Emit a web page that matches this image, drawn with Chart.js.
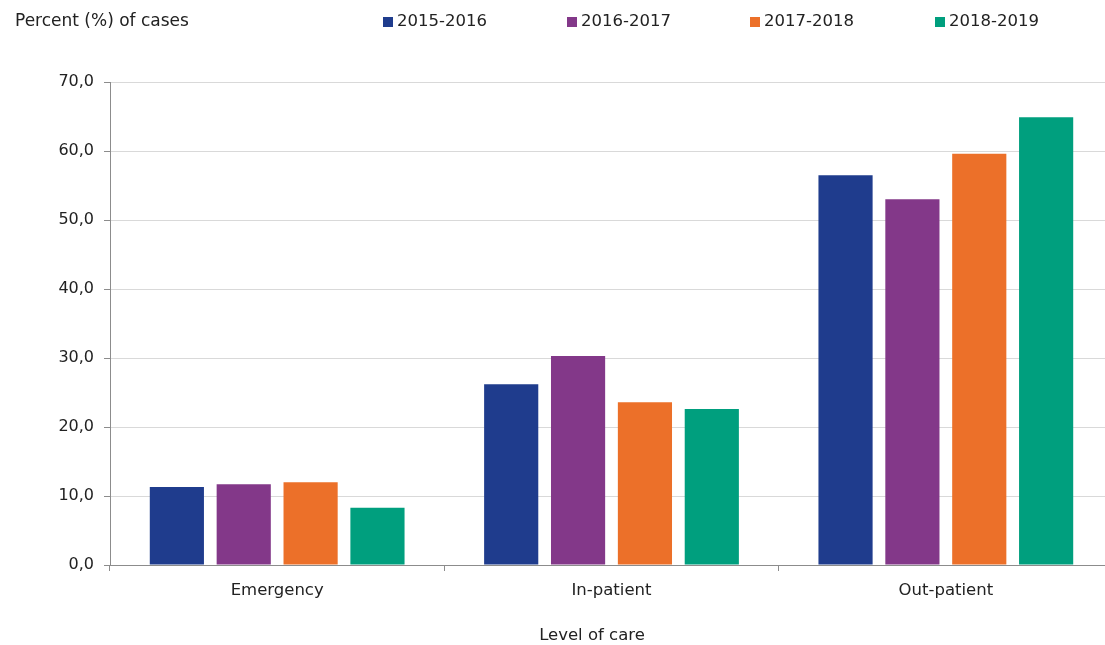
<!DOCTYPE html>
<html lang="en">
<head>
    <meta charset="UTF-8">
    <title>Level of care</title>
    <script src="https://cdn.jsdelivr.net/npm/chart.js@4.4.1/dist/chart.umd.min.js"></script>
    <style>
        html, body { margin: 0; padding: 0; background: #fff; overflow: hidden; }
        #wrap { position: absolute; left: 0; top: 0; width: 1115px; height: 645px; }
    </style>
</head>
<body>
<div id="wrap"><canvas id="myChart"></canvas></div>
<script>
    // data
    const categories = ['Emergency', 'In-patient', 'Out-patient'];
    const seriesNames = ['2015-2016', '2016-2017', '2017-2018', '2018-2019'];
    const v2015 = [11.3, 26.2, 56.5];
    const v2016 = [11.7, 30.3, 53.0];
    const v2017 = [12.0, 23.6, 59.6];
    const v2018 = [8.3, 22.6, 64.9];
    const yTicks = [0, 10, 20, 30, 40, 50, 60, 70];
    const yTitle = 'Percent (%) of cases';
    const xTitle = 'Level of care';

    const colors = ['#1f3c8d', '#833889', '#ec7029', '#009f7e'];
    const values = [v2015, v2016, v2017, v2018];
    const FONT = "'DejaVu Sans', Verdana, sans-serif";

    // titles + legend drawn by hand so they sit where the original has them
    const legendX = [383, 567, 750, 935];
    const extraText = {
        id: 'extraText',
        afterDraw(chart) {
            const c = chart.ctx;
            c.save();
            c.fillStyle = '#222';
            c.textBaseline = 'middle';
            c.textAlign = 'left';
            c.font = '17px ' + FONT;
            c.fillText(yTitle, 15, 22);
            c.font = '16.5px ' + FONT;
            chart.data.datasets.forEach((ds, i) => {
                c.fillStyle = ds.backgroundColor;
                c.fillRect(legendX[i], 17, 10, 10);
                c.fillStyle = '#222';
                c.fillText(ds.label, legendX[i] + 14, 22);
            });
            c.textAlign = 'center';
            c.fillText(xTitle, 592, 636);
            c.restore();
        }
    };

    const ctx = document.getElementById('myChart');
    new Chart(ctx, {
        type: 'bar',
        data: {
            labels: categories,
            datasets: seriesNames.map((name, i) => ({
                label: name,
                data: values[i],
                backgroundColor: colors[i],
                borderWidth: 0,
                categoryPercentage: 0.8,
                barPercentage: 0.81
            }))
        },
        options: {
            responsive: true,
            maintainAspectRatio: false,
            animation: false,
            layout: { padding: { top: 82, right: 2, left: 0, bottom: 0 } },
            plugins: {
                legend: { display: false },
                tooltip: { enabled: false }
            },
            scales: {
                x: {
                    grid: {
                        display: true,
                        drawOnChartArea: false,
                        drawTicks: true,
                        tickLength: 6,
                        color: '#8c8c8c',
                        lineWidth: 1
                    },
                    border: { color: '#8c8c8c', width: 1 },
                    ticks: {
                        color: '#222',
                        font: { family: FONT, size: 16.5 },
                        padding: 10
                    },
                    afterFit(scale) { scale.height = 80; }
                },
                y: {
                    min: 0,
                    max: 70,
                    afterBuildTicks(scale) {
                        scale.ticks = yTicks.map(v => ({ value: v }));
                    },
                    grid: {
                        color: '#d9d9d9',
                        lineWidth: 1,
                        drawTicks: true,
                        tickLength: 6,
                        tickColor: '#8c8c8c'
                    },
                    border: { color: '#8c8c8c', width: 1 },
                    ticks: {
                        color: '#222',
                        font: { family: FONT, size: 16 },
                        padding: 10,
                        callback: v => v.toFixed(1).replace('.', ',')
                    },
                    afterFit(scale) { scale.width = 110; }
                }
            }
        },
        plugins: [extraText]
    });
</script>
</body>
</html>
